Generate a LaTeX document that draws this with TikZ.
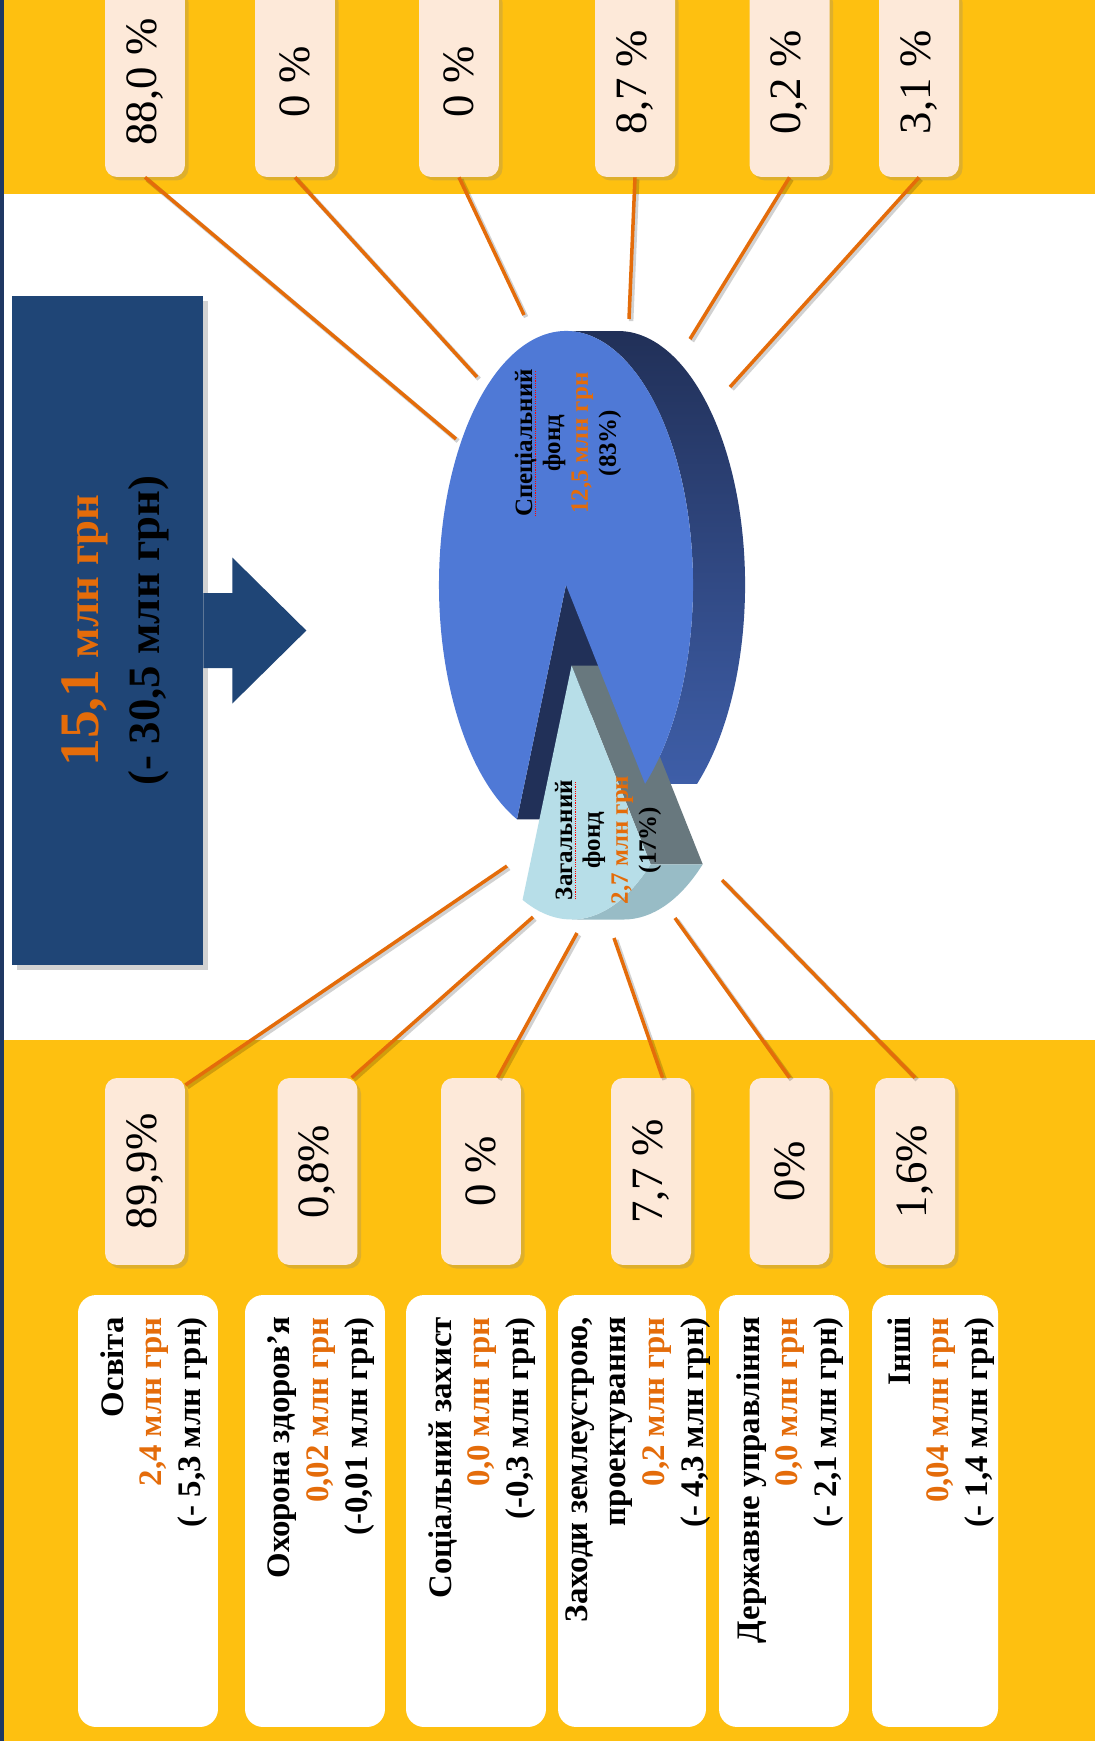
\documentclass[tikz,border=0pt]{standalone}
\usepackage{fontspec}
\setmainfont{Liberation Serif}
\usetikzlibrary{positioning,shadows}
\definecolor{gold}{RGB}{254,192,16}
\definecolor{navyBox}{RGB}{31,69,118}
\definecolor{navyEdge}{RGB}{31,56,99}
\definecolor{peach}{RGB}{253,233,217}
\definecolor{orangeTxt}{RGB}{228,108,10}
\definecolor{pieBlue}{RGB}{79,121,214}
\definecolor{pieDark}{RGB}{33,48,88}
\definecolor{pieSide}{RGB}{62,94,168}
\definecolor{pieLight}{RGB}{183,222,232}
\definecolor{pieGray}{RGB}{104,120,126}
\definecolor{pieRim}{RGB}{152,188,198}
\tikzset{
    pcttop/.style={rectangle,rounded corners=0.24cm,fill=peach,minimum width=1.6cm,minimum height=3.8cm,inner sep=0pt,
        font=\fontsize{25.5}{30}\selectfont,drop shadow={opacity=0.25,shadow xshift=2pt,shadow yshift=-2pt}},
    pctbot/.style={pcttop,minimum height=3.74cm},
    catbox/.style={rectangle,rounded corners=0.36cm,fill=white,minimum height=8.64cm,inner sep=0pt,
        font=\bfseries\fontsize{18.7}{22.1}\selectfont},
    totalbox/.style={rectangle,fill=navyBox,minimum width=3.82cm,minimum height=13.38cm,inner sep=0pt,
        drop shadow={opacity=0.35,shadow xshift=3pt,shadow yshift=-3pt}},
    pielabel/.style={rotate=90,align=center,inner sep=0pt,font=\bfseries\fontsize{14.2}{15.9}\selectfont},
    link/.style={draw=orangeTxt,line width=2pt,
        preaction={draw=black,opacity=0.18,line width=2.6pt,transform canvas={shift={(1.2pt,-1.2pt)}}}}
}
\newcommand{\vtext}[1]{\rotatebox{90}{#1}}
\newcommand{\catText}[3]{\rotatebox{90}{\raisebox{-0.12cm}[\height][\depth]{\parbox{7.76cm}{\raggedleft #1\\\textcolor{orangeTxt}{#2}\\#3}}}}
\newsavebox{\spellbox}
\newcommand{\spellmark}[1]{\sbox{\spellbox}{#1}\rlap{\textcolor{red}{\raisebox{-2.4pt}{\hbox to \wd\spellbox{\leaders\hbox to 1.3pt{\hss\rule{0.7pt}{0.6pt}\hss}\hfill}}}}\usebox{\spellbox}}

\begin{document}
\begin{tikzpicture}[x=0.02cm,y=-0.02cm]
    \useasboundingbox (0,0) rectangle (1095,1741);
    \clip (0,0) rectangle (1095,1741);
    \fill[white] (0,0) rectangle (1095,1741);
    \fill[gold] (0,0) rectangle (1095,194);
    \fill[gold] (0,1040) rectangle (1095,1741);
    \fill[navyEdge] (0,0) rectangle (4,1741);

    % total
    \node[totalbox] (total) at (107.5,630.5) {\vtext{\fontsize{25.5}{35}\selectfont\bfseries\raisebox{-0.18cm}[\height][\depth]{\begin{tabular}{@{}c@{}}
        \textcolor{orangeTxt}{{\fontsize{31.7}{35}\selectfont 15,1} млн грн}\\(- 30,5 млн грн)\end{tabular}}}};
    \fill[navyBox] ([yshift=0.75cm]total.east) -- ++(29,0) -- ++(0,-35.5) -- ++(74,73) -- ++(-74,73)
        -- ++(0,-35.5) -- ([yshift=-0.75cm]total.east) -- cycle;

    % pie
    \begin{scope}[shift={(566,585)},xscale=127,yscale=254]
        \fill[pieDark] (0,0) -- (112.7:1) -- ++(0.41,0) -- (0.41,0) -- cycle;
        \shade[top color=pieDark,bottom color=pieSide] (270:1) arc[start angle=270,end angle=411.5,radius=1]
            -- ++(0.41,0) arc[start angle=411.5,end angle=270,radius=1] -- cycle;
        \begin{scope}[shift={(0.044,0.317)}]
            \fill[pieGray] (0,0) -- (51.5:1) -- ++(0.41,0) -- (0.41,0) -- cycle;
            \fill[pieRim] (51.5:1) arc[start angle=51.5,end angle=90,radius=1]
                -- ++(0.41,0) arc[start angle=90,end angle=51.5,radius=1] -- cycle;
        \end{scope}
        \fill[pieBlue] (0,0) -- (112.7:1) arc[start angle=112.7,end angle=411.5,radius=1] -- cycle;
        \fill[pieLight,shift={(0.044,0.317)}] (0,0) -- (51.5:1) arc[start angle=51.5,end angle=112.7,radius=1] -- cycle;
    \end{scope}
    \node[pielabel] (special) at (568,443) {\spellmark{Спеціальний}\\фонд\\\textcolor{orangeTxt}{12,5 млн грн}\\(83\%)};
    \node[pielabel] (general) at (608,840) {\spellmark{Загальний}\\фонд\\\textcolor{orangeTxt}{2,7 млн грн}\\(17\%)};

    % upper shares
    \node[pcttop] (t1) at (145,82) {\vtext{88,0 \%}};
    \node[pcttop] (t2) at (295,82) {\vtext{0 \%}};
    \node[pcttop] (t3) at (459,82) {\vtext{0 \%}};
    \node[pcttop] (t4) at (635,82) {\vtext{8,7 \%}};
    \node[pcttop] (t5) at (789.5,82) {\vtext{0,2 \%}};
    \node[pcttop] (t6) at (919,82) {\vtext{3,1 \%}};

    % lower shares
    \node[pctbot] (b1) at (145,1171.5) {\vtext{89,9\%}};
    \node[pctbot] (b2) at (317.5,1171.5) {\vtext{0,8\%}};
    \node[pctbot] (b3) at (481,1171.5) {\vtext{0 \%}};
    \node[pctbot] (b4) at (651,1171.5) {\vtext{7,7 \%}};
    \node[pctbot] (b5) at (789.5,1171.5) {\vtext{0\%}};
    \node[pctbot] (b6) at (915,1171.5) {\vtext{1,6\%}};

    % categories
    \node[catbox,minimum width=2.8cm] (c1) at (148,1511) {\catText{Освіта}{2,4 млн грн}{(- 5,3 млн грн)}};
    \node[catbox,minimum width=2.8cm] (c2) at (315,1511) {\catText{Охорона здоров’я}{0,02 млн грн}{(-0,01 млн грн)}};
    \node[catbox,minimum width=2.8cm] (c3) at (476,1511) {\catText{Соціальний захист}{0,0 млн грн}{(-0,3 млн грн)}};
    \node[catbox,minimum width=2.96cm] (c4) at (632,1511) {\catText{Заходи землеустрою,\\проектування}{0,2 млн грн}{(- 4,3 млн грн)}};
    \node[catbox,minimum width=2.6cm] (c5) at (784,1511) {\catText{Державне управління}{0,0 млн грн}{(- 2,1 млн грн)}};
    \node[catbox,minimum width=2.52cm] (c6) at (935,1511) {\catText{Інші}{0,04 млн грн}{(- 1,4 млн грн)}};

    % connectors
    \coordinate (p1) at (456,439);
    \coordinate (p2) at (477,377);
    \coordinate (p3) at (524,315);
    \coordinate (p4) at (629,319);
    \coordinate (p5) at (690,339);
    \coordinate (p6) at (730,387);
    \coordinate (q1) at (507,866);
    \coordinate (q2) at (533,917);
    \coordinate (q3) at (577,933);
    \coordinate (q4) at (614,938);
    \coordinate (q5) at (675,918);
    \coordinate (q6) at (722,880);
    \draw[link] (t1.south) -- (p1);
    \draw[link] (t2.south) -- (p2);
    \draw[link] (t3.south) -- (p3);
    \draw[link] (t4.south) -- (p4);
    \draw[link] (t5.south) -- (p5);
    \draw[link] (t6.south) -- (p6);
    \draw[link] (q1) -- (b1.65);
    \draw[link] (q2) -- (b2.70);
    \draw[link] (q3) -- (b3.80);
    \draw[link] (q4) -- (b4.83);
    \draw[link] (q5) -- (b5.north);
    \draw[link] (q6) -- (b6.north);
\end{tikzpicture}
\end{document}
